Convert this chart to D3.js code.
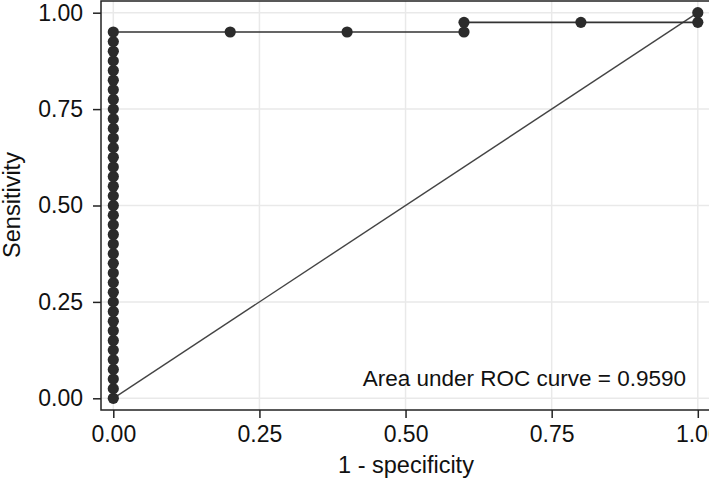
<!DOCTYPE html>
<html><head><meta charset="utf-8">
<script src="https://cdn.jsdelivr.net/npm/d3@7"></script>
<style>body{margin:0;background:#fff;overflow:hidden}svg{display:block}text{font-family:"Liberation Sans",Arial,sans-serif;fill:#111}</style>
</head><body>
<script>
// ROC curve points (1 - specificity, sensitivity)
const fpr = [0,0,0,0,0,0,0,0,0,0,0,0,0,0,0,0,0,0,0,0,0,0,0,0,0,0,0,0,0,0,0,0,0,0,0,0,0,0,0,0.2,0.4,0.6,0.6,0.8,1.0,1.0];
const tpr = [0,0.025,0.05,0.075,0.1,0.125,0.15,0.175,0.2,0.225,0.25,0.275,0.3,0.325,0.35,0.375,0.4,0.425,0.45,0.475,0.5,0.525,0.55,0.575,0.6,0.625,0.65,0.675,0.7,0.725,0.75,0.775,0.8,0.825,0.85,0.875,0.9,0.925,0.95,0.95,0.95,0.95,0.975,0.975,0.975,1.0];
const xTicks = [0,0.25,0.5,0.75,1];
const yTicks = [0,0.25,0.5,0.75,1];
const xTickLabels = ["0.00","0.25","0.50","0.75","1.00"];
const yTickLabels = ["0.00","0.25","0.50","0.75","1.00"];
const xTitle = "1 - specificity";
const yTitle = "Sensitivity";
const annotation = "Area under ROC curve = 0.9590";

const W = 709, H = 482;
const svg = d3.select("body").append("svg").attr("width", W).attr("height", H);
const L = 101, R = 710, T = 1, B = 410;
const x = d3.scaleLinear().domain([0,1]).range([113.3, 697.8]);
const y = d3.scaleLinear().domain([0,1]).range([398.3, 12.7]);
const FONT = '"Liberation Sans",Arial,sans-serif';

// gridlines
const g = svg.append("g");
g.selectAll(".gx").data(xTicks).join("line")
  .attr("x1", d=>x(d)).attr("x2", d=>x(d)).attr("y1", T).attr("y2", B)
  .attr("stroke", "#e9e9e9").attr("stroke-width", 1.5);
g.selectAll(".gy").data(yTicks).join("line")
  .attr("y1", d=>y(d)).attr("y2", d=>y(d)).attr("x1", L).attr("x2", R)
  .attr("stroke", "#e9e9e9").attr("stroke-width", 1.5);

// frame
svg.append("rect").attr("x", L).attr("y", T).attr("width", R-L).attr("height", B-T)
  .attr("fill", "none").attr("stroke", "#222").attr("stroke-width", 1.5);

// axes
const xAxis = d3.axisBottom(x).tickValues(xTicks).tickFormat((d,i)=>xTickLabels[i]).tickSize(8).tickPadding(8);
const yAxis = d3.axisLeft(y).tickValues(yTicks).tickFormat((d,i)=>yTickLabels[i]).tickSize(8).tickPadding(10);
const gx = svg.append("g").attr("transform", `translate(0,${B})`).call(xAxis);
const gy = svg.append("g").attr("transform", `translate(${L},0)`).call(yAxis);
[gx, gy].forEach(a => {
  a.select(".domain").remove();
  a.selectAll(".tick line").attr("stroke", "#222").attr("stroke-width", 1.5);
  a.selectAll(".tick text").style("font-family", FONT).style("font-size", "23px").attr("fill", "#111");
});

// reference diagonal
svg.append("line").attr("x1", x(0)).attr("y1", y(0)).attr("x2", x(1)).attr("y2", y(1))
  .attr("stroke", "#444").attr("stroke-width", 1.4);

// ROC line
const pts = fpr.map((f,i)=>[f, tpr[i]]);
svg.append("path").datum(pts)
  .attr("d", d3.line().x(d=>x(d[0])).y(d=>y(d[1])))
  .attr("fill", "none").attr("stroke", "#333").attr("stroke-width", 1.6);
svg.selectAll(".pt").data(pts).join("circle")
  .attr("cx", d=>x(d[0])).attr("cy", d=>y(d[1])).attr("r", 5.6).attr("fill", "#2b2b2b");

// titles
svg.append("text").attr("x", 406).attr("y", 473).attr("text-anchor", "middle")
  .style("font-size", "23.5px").text(xTitle);
svg.append("text").attr("transform", `translate(20,205) rotate(-90)`).attr("text-anchor", "middle")
  .style("font-size", "23.5px").text(yTitle);
svg.append("text").attr("x", 686).attr("y", 386).attr("text-anchor", "end")
  .style("font-size", "22.5px").text(annotation);
</script>
</body></html>
